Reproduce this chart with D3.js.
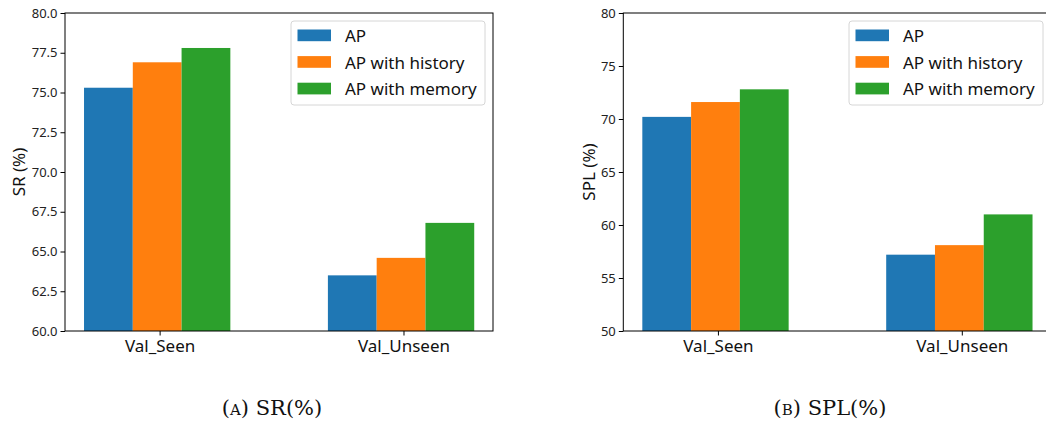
<!DOCTYPE html>
<html>
<head>
<meta charset="utf-8">
<script src="https://cdn.jsdelivr.net/npm/d3@7"></script>
<style>
  html, body { margin: 0; padding: 0; background: #fff; }
  svg { display: block; }
</style>
</head>
<body>
<svg id="chart" width="1046" height="421"></svg>
<script>
const categories = ["Val_Seen", "Val_Unseen"];
const seriesNames = ["AP", "AP with history", "AP with memory"];
const colors = ["#1f77b4", "#ff7f0e", "#2ca02c"];
const srValues = [
  [75.3, 63.5],
  [76.9, 64.6],
  [77.8, 66.8]
];
const splValues = [
  [70.2, 57.2],
  [71.6, 58.1],
  [72.8, 61.0]
];
const srTicks = [60.0, 62.5, 65.0, 67.5, 70.0, 72.5, 75.0, 77.5, 80.0];
const splTicks = [50, 55, 60, 65, 70, 75, 80];

const svg = d3.select("#chart");
const labelFont = "'Noto Sans', 'Open Sans', sans-serif";

function drawPanel(opts) {
  const { left, top, width, height, yDomain, ticks, tickFmt, values, yLabel, yLabelX, caption, captionX } = opts;
  const g = svg.append("g");
  const x = d3.scaleLinear().domain([-0.388, 1.367]).range([left, left + width]);
  const y = d3.scaleLinear().domain(yDomain).range([top + height, top]);
  const barW = 0.2;
  const offsets = [-0.31, -0.11, 0.09];

  values.forEach((vals, si) => {
    g.selectAll(null).data(vals).enter().append("rect")
      .attr("x", (d, i) => x(i + offsets[si]))
      .attr("width", x(barW) - x(0))
      .attr("y", d => y(d))
      .attr("height", d => y(yDomain[0]) - y(d))
      .attr("fill", colors[si]);
  });

  g.append("rect")
    .attr("x", left).attr("y", top)
    .attr("width", width).attr("height", height)
    .attr("fill", "none").attr("stroke", "#000").attr("stroke-width", 1);

  const yAxis = d3.axisLeft(y).tickValues(ticks).tickFormat(tickFmt).tickSize(4.5).tickPadding(3);
  const ya = g.append("g").attr("transform", `translate(${left},0)`).call(yAxis);
  ya.select(".domain").remove();
  ya.selectAll("text").attr("font-family", labelFont).attr("font-size", 13).attr("fill", "#222");
  ya.selectAll("line").attr("stroke", "#000");

  const xAxis = d3.axisBottom(x).tickValues([0, 1]).tickFormat((d, i) => categories[i]).tickSize(4.5).tickPadding(4);
  const xa = g.append("g").attr("transform", `translate(0,${top + height})`).call(xAxis);
  xa.select(".domain").remove();
  xa.selectAll("text").attr("font-family", labelFont).attr("font-size", 17).attr("fill", "#111");
  xa.selectAll("line").attr("stroke", "#000");

  g.append("text")
    .attr("transform", `translate(${yLabelX},${top + height / 2}) rotate(-90)`)
    .attr("text-anchor", "middle").attr("dominant-baseline", "central")
    .attr("font-family", labelFont).attr("font-size", 17).attr("fill", "#111")
    .text(yLabel);

  const lx = opts.legendX, ly = top + 8;
  const lg = g.append("g");
  lg.append("rect")
    .attr("x", lx).attr("y", ly).attr("width", 194).attr("height", 84)
    .attr("rx", 3).attr("fill", "#fff").attr("fill-opacity", 0.8)
    .attr("stroke", "#d6d6d6").attr("stroke-width", 1);
  seriesNames.forEach((name, i) => {
    const ry = ly + 8.5 + i * 26.6;
    lg.append("rect").attr("x", lx + 6.5).attr("y", ry).attr("width", 33.5).attr("height", 11.7).attr("fill", colors[i]);
    lg.append("text").attr("x", lx + 54).attr("y", ry + 6)
      .attr("dominant-baseline", "central")
      .attr("font-family", labelFont).attr("font-size", 17).attr("fill", "#111")
      .text(name);
  });

  const cap = svg.append("text")
    .attr("x", captionX).attr("y", 415)
    .attr("text-anchor", "middle")
    .attr("font-family", "'DejaVu Serif', 'Liberation Serif', serif")
    .attr("font-size", 21).attr("fill", "#111");
  cap.append("tspan").text("(");
  cap.append("tspan").attr("font-size", 15).text(caption[0]);
  cap.append("tspan").text(") " + caption[1]);
}

drawPanel({
  left: 65, top: 13, width: 428, height: 318,
  yDomain: [60, 80], ticks: srTicks, tickFmt: d3.format(".1f"),
  values: srValues, yLabel: "SR (%)", yLabelX: 18,
  legendX: 291, caption: ["A", "SR(%)"], captionX: 272
});

drawPanel({
  left: 623.3, top: 13, width: 428, height: 318,
  yDomain: [50, 80], ticks: splTicks, tickFmt: d3.format("d"),
  values: splValues, yLabel: "SPL (%)", yLabelX: 588,
  legendX: 849, caption: ["B", "SPL(%)"], captionX: 830
});
</script>
</body>
</html>
